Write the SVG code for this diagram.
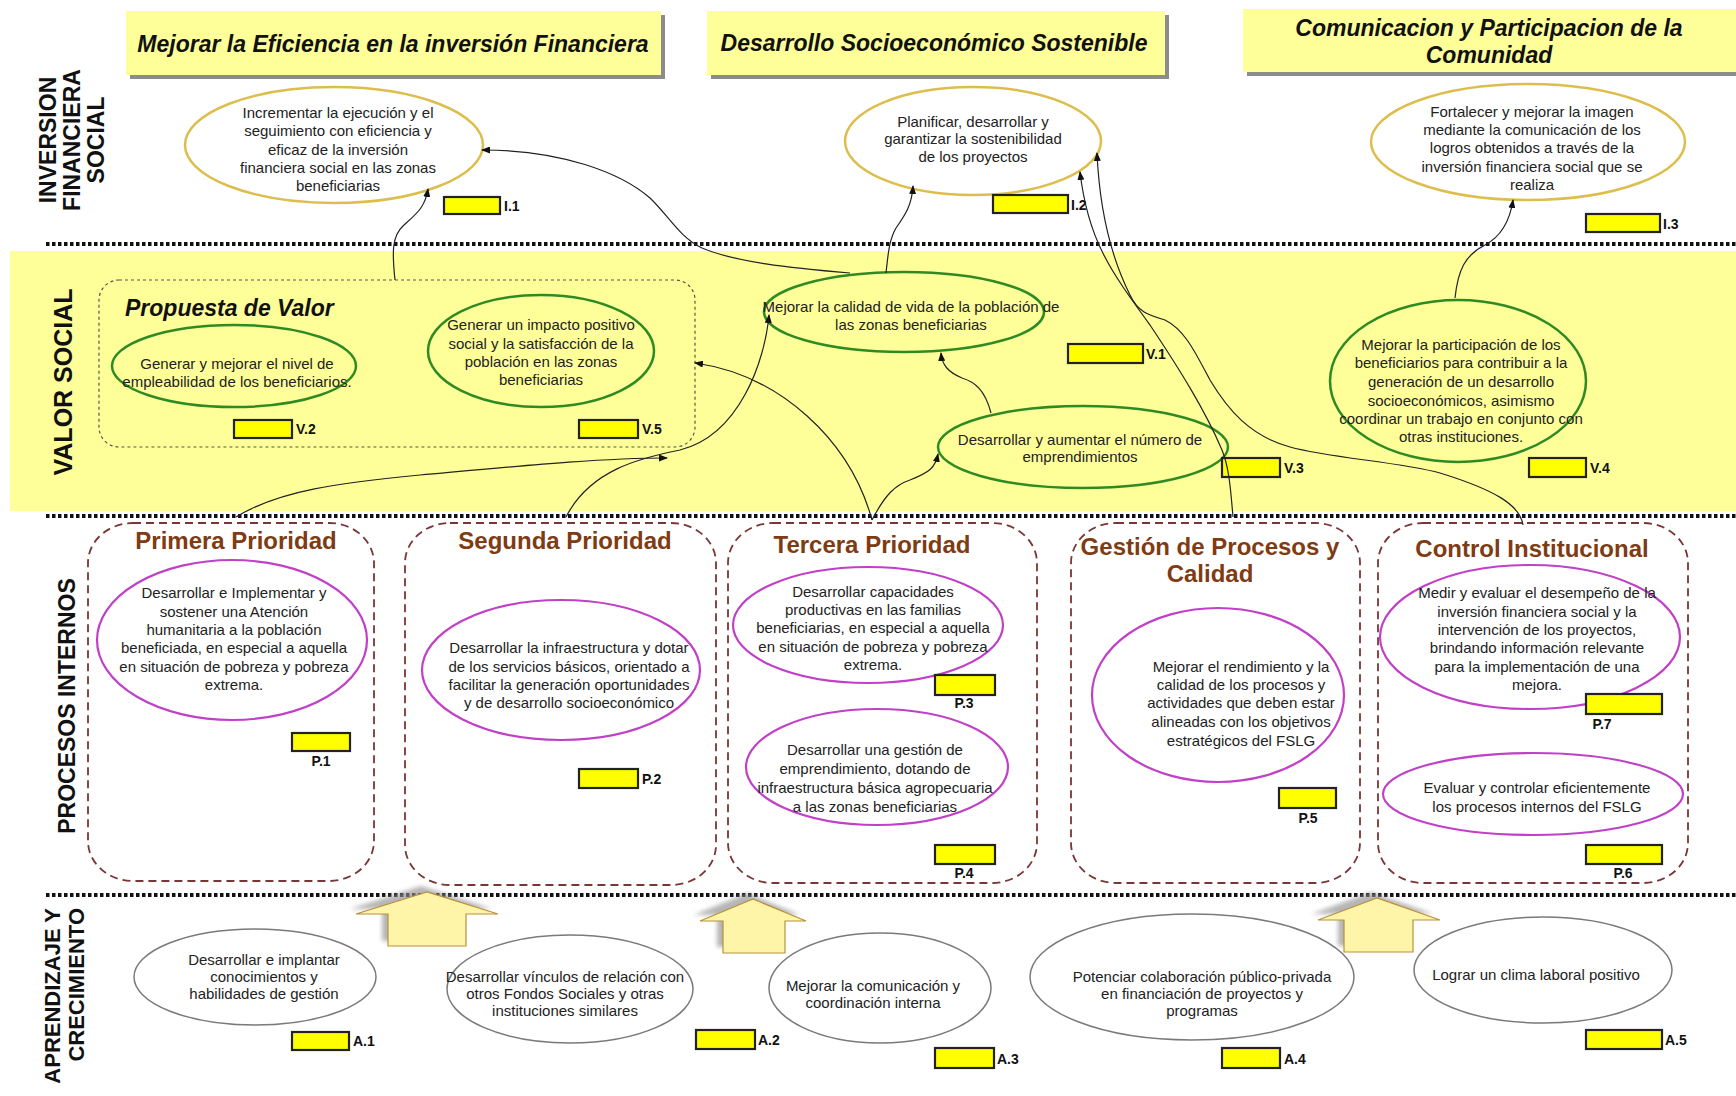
<svg xmlns="http://www.w3.org/2000/svg" width="1736" height="1096" viewBox="0 0 1736 1096">
<defs>
<style>
.hs{fill:#8c8c8c}
.hb{fill:#FFFF99}
.ht{font:italic bold 23px "Liberation Sans",Arial,sans-serif;fill:#111;text-anchor:middle}
.side{font:bold 23px "Liberation Sans",Arial,sans-serif;fill:#111;text-anchor:middle}
.ei{fill:#fff;stroke:#DDBE4C;stroke-width:2.5}
.ev{fill:#FFFF99;stroke:#2F8A24;stroke-width:2.5}
.ep{fill:#fff;stroke:#C040C8;stroke-width:2.2}
.ea{fill:#fff;stroke:#7a7a7a;stroke-width:1.5}
.t{font:15px "Liberation Sans",Arial,sans-serif;fill:#222;text-anchor:middle}
.ind{fill:#FFFF00;stroke:#222;stroke-width:2.2}
.lb{font:bold 14px "Liberation Sans",Arial,sans-serif;fill:#111}
.lbm{font:bold 14px "Liberation Sans",Arial,sans-serif;fill:#111;text-anchor:middle}
.sep{stroke:#111;stroke-width:4;stroke-dasharray:3.5 2.5;fill:none}
.box{fill:none;stroke:#7A3535;stroke-width:1.8;stroke-dasharray:8 5}
.pt{font:bold 24px "Liberation Sans",Arial,sans-serif;fill:#7F3B12;text-anchor:middle}
.con{fill:none;stroke:#222;stroke-width:1.2;marker-end:url(#ah)}
.arr{fill:#FFF5A8;stroke:#B8913A;stroke-width:1.2}
.arrs{fill:#8f8f8f;opacity:0.65}
</style>
<marker id="ah" markerUnits="userSpaceOnUse" markerWidth="9" markerHeight="7" refX="8" refY="3.5" orient="auto">
<path d="M0,0 L9,3.5 L0,7 z" fill="#111"/>
</marker>
<filter id="blur" x="-20%" y="-20%" width="140%" height="140%"><feGaussianBlur stdDeviation="2"/></filter>
</defs>
<rect width="1736" height="1096" fill="#fff"/>

<!-- band -->
<rect x="10" y="251" width="1726" height="260" fill="#FFFF99"/>
<line class="sep" x1="46" y1="244" x2="1736" y2="244"/>
<line class="sep" x1="46" y1="516" x2="1736" y2="516"/>
<line class="sep" x1="46" y1="895" x2="1736" y2="895"/>

<!-- side labels -->
<g id="lbl-inversion">
<text class="side" transform="translate(0,140) rotate(-90)"><tspan x="0" y="56">INVERSION</tspan><tspan x="0" y="80">FINANCIERA</tspan><tspan x="0" y="104">SOCIAL</tspan></text>
</g>
<g id="lbl-valor"><text class="side" style="font-size:25px" transform="translate(0,382) rotate(-90)" x="0" y="72">VALOR SOCIAL</text></g>
<g id="lbl-procesos"><text class="side" transform="translate(0,706) rotate(-90)" x="0" y="75">PROCESOS INTERNOS</text></g>
<g id="lbl-aprendizaje"><text class="side" style="text-anchor:end;font-size:22px" transform="translate(0,908) rotate(-90)"><tspan x="0" y="60">APRENDIZAJE Y</tspan><tspan x="0" y="84">CRECIMIENTO</tspan></text></g>

<!-- headers -->
<g id="h1"><rect class="hs" x="130" y="15" width="535" height="64"/><rect class="hb" x="126" y="11" width="535" height="64"/><text class="ht" x="393" y="52">Mejorar la Eficiencia en la inversión Financiera</text></g>
<g id="h2"><rect class="hs" x="711" y="15" width="458" height="64"/><rect class="hb" x="707" y="11" width="458" height="64"/><text class="ht" x="934" y="51">Desarrollo Socioeconómico Sostenible</text></g>
<g id="h3"><rect class="hs" x="1247" y="13" width="489" height="63"/><rect class="hb" x="1243" y="9" width="493" height="63"/><text class="ht" x="1489"><tspan x="1489" y="36">Comunicacion y Participacion de la</tspan><tspan x="1489" y="63">Comunidad</tspan></text></g>

<!-- process boxes -->
<g id="box-primera"><rect class="box" x="88" y="523" width="286" height="358" rx="45" ry="40"/><text class="pt" x="236" y="549">Primera Prioridad</text></g>
<g id="box-segunda"><rect class="box" x="405" y="523" width="311" height="362" rx="45" ry="40"/><text class="pt" x="565" y="549">Segunda Prioridad</text></g>
<g id="box-tercera"><rect class="box" x="728" y="523" width="309" height="360" rx="45" ry="40"/><text class="pt" x="872" y="553">Tercera Prioridad</text></g>
<g id="box-gestion"><rect class="box" x="1071" y="523" width="289" height="360" rx="45" ry="40"/><text class="pt" x="1210"><tspan x="1210" y="555">Gestión de Procesos y</tspan><tspan x="1210" y="582">Calidad</tspan></text></g>
<g id="box-control"><rect class="box" x="1378" y="523" width="310" height="360" rx="45" ry="40"/><text class="pt" x="1532" y="557">Control Institucional</text></g>

<!-- propuesta de valor -->
<g id="propuesta"><rect x="99" y="280" width="596" height="167" rx="20" fill="none" stroke="#555" stroke-width="1.2" stroke-dasharray="3 3"/><text x="125" y="316" style="font:italic bold 23px 'Liberation Sans',Arial,sans-serif;fill:#111">Propuesta de Valor</text></g>

<!-- inversion nodes -->
<g id="I1"><ellipse class="ei" cx="334" cy="145" rx="149" ry="58"/><text class="t"><tspan x="338" y="118">Incrementar la ejecución y el</tspan><tspan x="338" y="136">seguimiento con eficiencia y</tspan><tspan x="338" y="155">eficaz de la inversión</tspan><tspan x="338" y="173">financiera social en las zonas</tspan><tspan x="338" y="191">beneficiarias</tspan></text><rect class="ind" x="444" y="197" width="56" height="17"/><text class="lb" x="504" y="211">I.1</text></g>
<g id="I2"><ellipse class="ei" cx="973" cy="141" rx="128" ry="54"/><text class="t"><tspan x="973" y="127">Planificar, desarrollar y</tspan><tspan x="973" y="144">garantizar la sostenibilidad</tspan><tspan x="973" y="162">de los proyectos</tspan></text><rect class="ind" x="993" y="195" width="75" height="18"/><text class="lb" x="1071" y="210">I.2</text></g>
<g id="I3"><ellipse class="ei" cx="1528" cy="142" rx="157" ry="58"/><text class="t"><tspan x="1532" y="117">Fortalecer y mejorar la imagen</tspan><tspan x="1532" y="135">mediante la comunicación de los</tspan><tspan x="1532" y="153">logros obtenidos a través de la</tspan><tspan x="1532" y="172">inversión financiera social que se</tspan><tspan x="1532" y="190">realiza</tspan></text><rect class="ind" x="1586" y="214" width="74" height="18"/><text class="lb" x="1663" y="229">I.3</text></g>

<!-- valor nodes -->
<g id="V2"><ellipse class="ev" cx="234" cy="366" rx="122" ry="41"/><text class="t"><tspan x="237" y="369">Generar y mejorar el nivel de</tspan><tspan x="237" y="387">empleabilidad de los beneficiarios.</tspan></text><rect class="ind" x="234" y="420" width="58" height="18"/><text class="lb" x="296" y="434">V.2</text></g>
<g id="V5"><ellipse class="ev" cx="541" cy="351" rx="113" ry="56"/><text class="t"><tspan x="541" y="330">Generar un impacto positivo</tspan><tspan x="541" y="348.5">social y la satisfacción de la</tspan><tspan x="541" y="367">población en las zonas</tspan><tspan x="541" y="385">beneficiarias</tspan></text><rect class="ind" x="579" y="420" width="59" height="18"/><text class="lb" x="642" y="434">V.5</text></g>
<g id="V1"><ellipse class="ev" cx="904" cy="312" rx="140" ry="40"/><text class="t"><tspan x="911" y="312">Mejorar la calidad de vida de la población de</tspan><tspan x="911" y="330">las zonas beneficiarias</tspan></text><rect class="ind" x="1068" y="344" width="75" height="19"/><text class="lb" x="1146" y="359">V.1</text></g>
<g id="V3"><ellipse class="ev" cx="1083" cy="447" rx="145" ry="41"/><text class="t"><tspan x="1080" y="445">Desarrollar y aumentar el número de</tspan><tspan x="1080" y="462">emprendimientos</tspan></text><rect class="ind" x="1222" y="458" width="58" height="19"/><text class="lb" x="1284" y="473">V.3</text></g>
<g id="V4"><ellipse class="ev" cx="1458" cy="381" rx="128" ry="81"/><text class="t"><tspan x="1461" y="350">Mejorar la participación de los</tspan><tspan x="1461" y="368">beneficiarios para contribuir a la</tspan><tspan x="1461" y="387">generación de un desarrollo</tspan><tspan x="1461" y="406">socioeconómicos, asimismo</tspan><tspan x="1461" y="424">coordinar un trabajo en conjunto con</tspan><tspan x="1461" y="442">otras instituciones.</tspan></text><rect class="ind" x="1529" y="458" width="57" height="19"/><text class="lb" x="1590" y="473">V.4</text></g>

<!-- procesos nodes -->
<g id="P1"><ellipse class="ep" cx="232" cy="640" rx="135" ry="80"/><text class="t"><tspan x="234" y="598">Desarrollar e Implementar y</tspan><tspan x="234" y="617">sostener una Atención</tspan><tspan x="234" y="635">humanitaria a la población</tspan><tspan x="234" y="653">beneficiada, en especial a aquella</tspan><tspan x="234" y="672">en situación de pobreza y pobreza</tspan><tspan x="234" y="690">extrema.</tspan></text><rect class="ind" x="292" y="733" width="58" height="18"/><text class="lbm" x="321" y="766">P.1</text></g>
<g id="P2"><ellipse class="ep" cx="561" cy="670" rx="139" ry="70"/><text class="t"><tspan x="569" y="653">Desarrollar la infraestructura y dotar</tspan><tspan x="569" y="672">de los servicios básicos, orientado a</tspan><tspan x="569" y="690">facilitar la generación oportunidades</tspan><tspan x="569" y="708">y de desarrollo socioeconómico</tspan></text><rect class="ind" x="579" y="769" width="59" height="19"/><text class="lb" x="642" y="784">P.2</text></g>
<g id="P3"><ellipse class="ep" cx="868" cy="625" rx="135" ry="58"/><text class="t"><tspan x="873" y="597">Desarrollar capacidades</tspan><tspan x="873" y="615">productivas en las familias</tspan><tspan x="873" y="633">beneficiarias, en especial a aquella</tspan><tspan x="873" y="652">en situación de pobreza y pobreza</tspan><tspan x="873" y="670">extrema.</tspan></text><rect class="ind" x="935" y="675" width="60" height="20"/><text class="lbm" x="964" y="708">P.3</text></g>
<g id="P4"><ellipse class="ep" cx="877" cy="767" rx="131" ry="58"/><text class="t"><tspan x="875" y="755">Desarrollar una gestión de</tspan><tspan x="875" y="774">emprendimiento, dotando de</tspan><tspan x="875" y="793">infraestructura básica agropecuaria</tspan><tspan x="875" y="812">a las zonas beneficiarias</tspan></text><rect class="ind" x="935" y="845" width="60" height="19"/><text class="lbm" x="964" y="878">P.4</text></g>
<g id="P5"><ellipse class="ep" cx="1218" cy="695" rx="126" ry="87"/><text class="t"><tspan x="1241" y="672">Mejorar el rendimiento y la</tspan><tspan x="1241" y="690">calidad de los procesos y</tspan><tspan x="1241" y="708">actividades que deben estar</tspan><tspan x="1241" y="727">alineadas con los objetivos</tspan><tspan x="1241" y="746">estratégicos del FSLG</tspan></text><rect class="ind" x="1279" y="788" width="57" height="20"/><text class="lbm" x="1308" y="823">P.5</text></g>
<g id="P7"><ellipse class="ep" cx="1530" cy="637" rx="150" ry="72"/><text class="t"><tspan x="1537" y="598">Medir y evaluar el desempeño de la</tspan><tspan x="1537" y="617">inversión financiera social y la</tspan><tspan x="1537" y="635">intervención de los proyectos,</tspan><tspan x="1537" y="653">brindando información relevante</tspan><tspan x="1537" y="672">para la implementación de una</tspan><tspan x="1537" y="690">mejora.</tspan></text><rect class="ind" x="1586" y="694" width="76" height="20"/><text class="lbm" x="1602" y="729">P.7</text></g>
<g id="P6"><ellipse class="ep" cx="1533" cy="794" rx="150" ry="41"/><text class="t"><tspan x="1537" y="793">Evaluar y controlar eficientemente</tspan><tspan x="1537" y="812">los procesos internos del FSLG</tspan></text><rect class="ind" x="1586" y="845" width="76" height="19"/><text class="lbm" x="1623" y="878">P.6</text></g>

<!-- big arrows -->
<g id="arrows">
<polygon class="arrs" filter="url(#blur)" points="421,886 350,909 382,909 382,941 460,941 460,909 492,909"/>
<polygon class="arr" points="427,892 356,914 388,914 388,946 466,946 466,914 498,914"/>
<polygon class="arrs" filter="url(#blur)" points="747,893 694,915 717,915 717,947 777,947 777,915 800,915"/>
<polygon class="arr" points="753,899 700,921 723,921 723,953 785,953 785,921 806,921"/>
<polygon class="arrs" filter="url(#blur)" points="1371,892 1312,914 1338,914 1338,946 1405,946 1405,914 1433,914"/>
<polygon class="arr" points="1377,898 1318,920 1344,920 1344,952 1413,952 1413,920 1440,920"/>
</g>

<!-- aprendizaje nodes -->
<g id="A1"><ellipse class="ea" cx="255" cy="977" rx="121" ry="48"/><text class="t"><tspan x="264" y="965">Desarrollar e implantar</tspan><tspan x="264" y="982">conocimientos y</tspan><tspan x="264" y="999">habilidades de gestión</tspan></text><rect class="ind" x="292" y="1032" width="57" height="18"/><text class="lb" x="353" y="1046">A.1</text></g>
<g id="A2"><ellipse class="ea" cx="570" cy="989" rx="123" ry="54"/><text class="t"><tspan x="565" y="982">Desarrollar vínculos de relación con</tspan><tspan x="565" y="999">otros Fondos Sociales y otras</tspan><tspan x="565" y="1016">instituciones similares</tspan></text><rect class="ind" x="696" y="1030" width="59" height="19"/><text class="lb" x="758" y="1045">A.2</text></g>
<g id="A3"><ellipse class="ea" cx="880" cy="988" rx="111" ry="55"/><text class="t"><tspan x="873" y="991">Mejorar la comunicación y</tspan><tspan x="873" y="1008">coordinación interna</tspan></text><rect class="ind" x="935" y="1048" width="59" height="20"/><text class="lb" x="997" y="1064">A.3</text></g>
<g id="A4"><ellipse class="ea" cx="1192" cy="977" rx="162" ry="63"/><text class="t"><tspan x="1202" y="982">Potenciar colaboración público-privada</tspan><tspan x="1202" y="999">en financiación de proyectos y</tspan><tspan x="1202" y="1016">programas</tspan></text><rect class="ind" x="1222" y="1048" width="58" height="20"/><text class="lb" x="1284" y="1064">A.4</text></g>
<g id="A5"><ellipse class="ea" cx="1543" cy="970" rx="129" ry="53"/><text class="t"><tspan x="1536" y="980">Lograr un clima laboral positivo</tspan></text><rect class="ind" x="1586" y="1030" width="76" height="19"/><text class="lb" x="1665" y="1045">A.5</text></g>

<!-- connectors -->
<g id="connectors">
<path class="con" d="M395,280 C392,252 392,236 403,226 C416,214 425,208 428,189"/>
<path class="con" d="M850,273 C790,268 735,262 702,248 C680,238 668,215 650,198 C620,172 560,150 482,150"/>
<path class="con" d="M886,273 C888,255 889,240 896,228 C905,215 912,205 913,186"/>
<path class="con" d="M991,413 C985,390 975,382 962,378 C948,372 942,365 941,353"/>
<path class="con" d="M872,520 C885,495 895,485 910,480 C930,472 935,468 938,454"/>
<path class="con" d="M872,520 C850,440 780,375 695,363"/>
<path class="con" d="M236,517 C280,490 340,483 420,475 C520,466 600,458 667,458"/>
<path class="con" d="M566,517 C590,470 640,458 680,450 C740,435 765,360 769,315"/>
<path class="con" d="M1233,517 C1230,480 1228,465 1222,450 C1205,410 1180,370 1150,325 C1110,270 1088,240 1080,172"/>
<path class="con" d="M1523,525 C1520,505 1495,490 1440,473 C1400,462 1330,458 1290,447 C1250,436 1228,410 1210,380 C1195,352 1185,330 1165,320 C1148,315 1138,312 1130,295 C1115,265 1100,220 1097,153"/>
<path class="con" d="M1455,298 C1458,270 1465,255 1485,245 C1502,236 1510,220 1513,200"/>
</g>
</svg>
